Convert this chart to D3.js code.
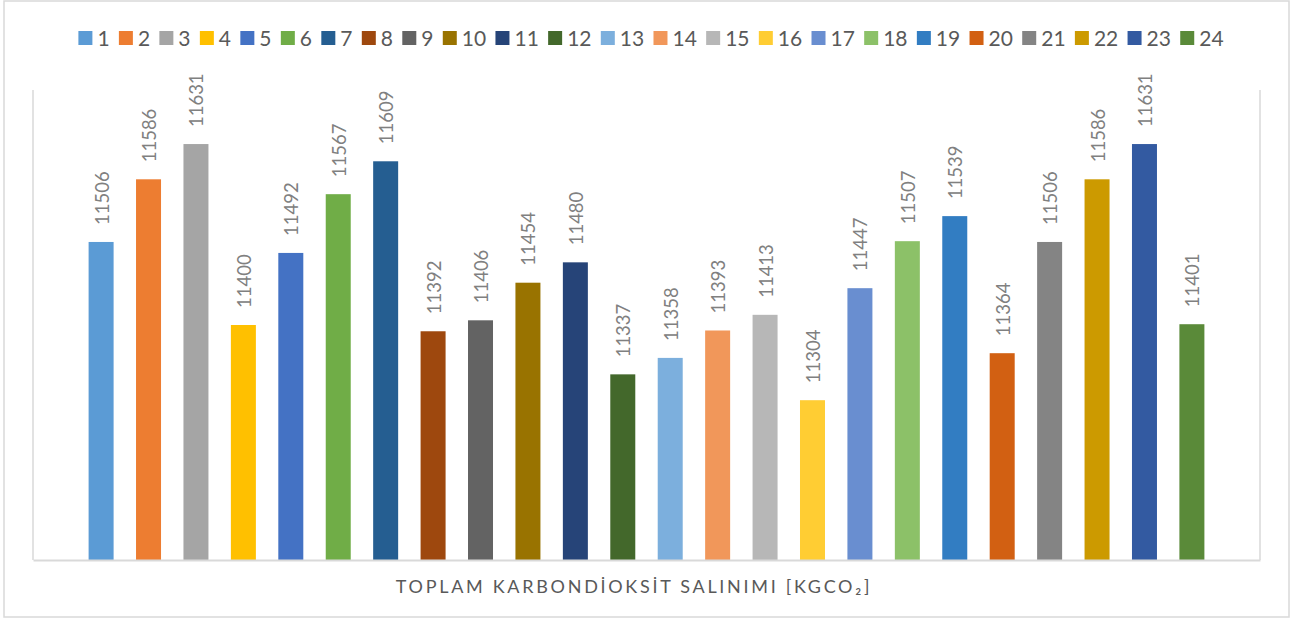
<!DOCTYPE html>
<html>
<head>
<meta charset="utf-8">
<script src="https://cdn.jsdelivr.net/npm/d3@7"></script>
<style>
body{margin:0;background:#fff;}
text{font-family:Lato,"Open Sans",sans-serif;}
</style>
</head>
<body>
<div id="chart"></div>
<script>
var categories=['TOPLAM KARBONDİOKSİT SALINIMI [KGCO₂]'];
var seriesNames=['1','2','3','4','5','6','7','8','9','10','11','12','13','14','15','16','17','18','19','20','21','22','23','24'];
var seriesValues=[11506,11586,11631,11400,11492,11567,11609,11392,11406,11454,11480,11337,11358,11393,11413,11304,11447,11507,11539,11364,11506,11586,11631,11401];
var seriesColors=['#5B9BD5','#ED7D31','#A5A5A5','#FFC000','#4472C4','#70AD47','#255E91','#9E480E','#636363','#997300','#264478','#43682B','#7CAFDD','#F1975A','#B7B7B7','#FFCD33','#698ED0','#8CC168','#327DC2','#D26012','#848484','#CC9A00','#335AA1','#5A8A39'];
var yDomain=[11100,11700];

var W=1299,H=619;
var plot={left:33,right:1260,top:90,bottom:560};

var svg=d3.select('#chart').append('svg').attr('width',W).attr('height',H);

// chart border
svg.append('rect').attr('x',4).attr('y',1).attr('width',1285).attr('height',616)
  .attr('fill','#fff').attr('stroke','#d9d9d9').attr('stroke-width',1.5);

var x0=d3.scaleBand().domain(categories).range([plot.left,plot.right]).paddingInner(0).paddingOuter(0.039);
var x1=d3.scaleBand().domain(seriesNames).range([0,x0.bandwidth()]).paddingInner(0.473).paddingOuter(0.2365);
var y=d3.scaleLinear().domain(yDomain).range([plot.bottom,plot.top]);
var color=d3.scaleOrdinal().domain(seriesNames).range(seriesColors);

var rows=seriesNames.map(function(s,i){return {name:s,value:seriesValues[i]};});

// plot area frame (left, right)
var frame=svg.append('g').attr('stroke','#d9d9d9').attr('stroke-width',1.5).attr('fill','none');
frame.append('line').attr('x1',plot.left).attr('y1',plot.top).attr('x2',plot.left).attr('y2',plot.bottom);
frame.append('line').attr('x1',plot.right).attr('y1',plot.top).attr('x2',plot.right).attr('y2',plot.bottom);

var group=svg.append('g').attr('transform','translate('+x0(categories[0])+',0)');
group.selectAll('rect.bar').data(rows).enter().append('rect').attr('class','bar')
  .attr('x',function(d){return x1(d.name);})
  .attr('y',function(d){return y(d.value);})
  .attr('width',x1.bandwidth())
  .attr('height',function(d){return y(yDomain[0])-y(d.value);})
  .attr('fill',function(d){return color(d.name);});

group.selectAll('text.lbl').data(rows).enter().append('text').attr('class','lbl')
  .attr('transform',function(d){return 'translate('+(x1(d.name)+x1.bandwidth()/2+7.5)+','+(y(d.value)-17)+') rotate(-90)';})
  .attr('fill','#808080').attr('font-size',18.5)
  .text(function(d){return d.value;});

// x axis baseline
var xAxis=svg.append('g').attr('transform','translate(0,'+plot.bottom+')')
  .call(d3.axisBottom(x0).tickSize(0).tickFormat(''));
xAxis.select('.domain').attr('stroke','#d9d9d9').attr('stroke-width',2);

svg.append('text').attr('x',634).attr('y',593)
  .attr('text-anchor','middle').attr('fill','#595959').attr('font-size',18)
  .attr('letter-spacing','2.7px').text(categories[0]);

// legend
var legend=svg.append('g');
var items=legend.selectAll('g').data(seriesNames).enter().append('g');
items.append('rect').attr('width',14).attr('height',14).attr('y',31)
  .attr('fill',function(d){return color(d);});
items.append('text').attr('x',19).attr('y',45.5).attr('fill','#595959').attr('font-size',21).text(function(d){return d;});
var pos=0;
items.each(function(){
  var w=d3.select(this).select('text').node().getComputedTextLength();
  d3.select(this).attr('transform','translate('+pos+',0)');
  pos+=19+w+9.3;
});
pos-=9.3;
legend.attr('transform','translate('+(651-pos/2)+',0)');
</script>
</body>
</html>
